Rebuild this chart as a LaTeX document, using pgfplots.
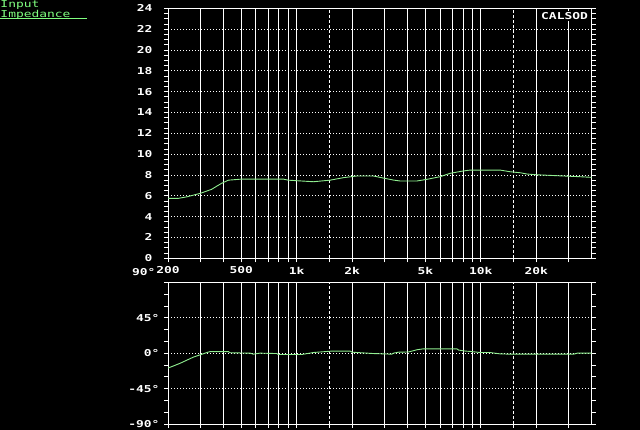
\documentclass[border=0pt]{standalone}
\usepackage{pgfplots}
\pgfplotsset{compat=1.18}
\usepackage{fontspec}
\setmainfont{DejaVu Sans Mono}[FakeStretch=1.36]
\definecolor{curve}{RGB}{144,238,144}
\definecolor{ttl}{RGB}{128,255,128}
\pgfplotsset{every axis/.append style={
  scale only axis, width=423.7pt,
  axis line style={white, line width=0.9pt},
  axis background/.style={fill=black},
  xmajorgrids, xminorgrids, ymajorgrids,
  major x grid style={white, line width=0.8pt},
  minor x grid style={white, line width=0.8pt, dash pattern=on 3pt off 2pt},
  major y grid style={white, line width=0.8pt, dash pattern=on 1pt off 2pt},
  tick style={white, line width=0.8pt},
  tick align=outside, major tick length=4pt, minor tick length=4pt,
  xtick pos=left, ytick pos=both,
  ticklabel style={text=white, font=\bfseries\fontsize{9.5}{9.5}\selectfont},
}}
\begin{document}
\begin{tikzpicture}[x=1pt,y=1pt]
\fill[black] (0,0) rectangle (640,430);
\useasboundingbox (0,0) rectangle (640,430);
\node[anchor=north west, inner sep=0pt, text=ttl, align=left, font=\fontsize{9.5}{8.4}\selectfont] at (0.3,430) {Input\\Impedance};
\draw[ttl, line width=0.9pt] (0,411.7) -- (87,411.7);
\begin{axis}[at={(168pt,171.7pt)}, anchor=south west, height=250pt,
  xmode=log, xmin=200, xmax=40000,
  xtick={200,300,400,500,600,700,800,900,1000,2000,3000,4000,5000,6000,7000,8000,9000,10000,20000,30000},
  xticklabels={200,,,500,,,,,1k,2k,,,5k,,,,,10k,20k,},
  minor xtick={1500,15000},
  ymin=0, ymax=24, ytick={0,2,...,24}, minor y tick num=3,
  yticklabels={0,2,4,6,8,10,12,14,16,18,20,22,24},
  yticklabel style={xshift=-8pt}, xticklabel style={yshift=-1pt}]
\addplot[curve, line width=0.9pt] coordinates {
(200,5.76) (227,5.75) (253,5.9) (300,6.24) (345,6.62) (370,6.95) (391,7.2) (426,7.5) (500,7.6)
(847,7.6) (900,7.5) (1000,7.45) (1232,7.35) (1518,7.5) (1795,7.74) (2120,7.9) (2612,7.9)
(2960,7.7) (3354,7.51) (3647,7.42) (4494,7.42) (5094,7.58) (6000,7.83) (6818,8.16)
(8000,8.38) (8750,8.47) (12700,8.47) (14400,8.31) (16400,8.21) (17800,8.09) (20000,8.02)
(25900,7.93) (34700,7.83) (40000,7.77)};
\node[anchor=north east, fill=black, inner sep=1.5pt, text=white, font=\bfseries\fontsize{9.5}{9.5}\selectfont] at (rel axis cs:0.995,0.99) {CALSOD};
\end{axis}
\begin{axis}[at={(168pt,6pt)}, anchor=south west, height=141.7pt,
  xmode=log, xmin=200, xmax=40000,
  xtick={200,300,400,500,600,700,800,900,1000,2000,3000,4000,5000,6000,7000,8000,9000,10000,20000,30000},
  xticklabels={},
  minor xtick={1500,15000},
  ymin=-90, ymax=90, ytick={-90,-45,0,45,90}, minor y tick num=2,
  yticklabels={-90°,-45°,0°,45°,\raisebox{20pt}{90°\hspace{4pt}}},
  yticklabel style={xshift=-1pt}]
\addplot[curve, line width=0.9pt] coordinates {
(200,-19) (232,-13) (275,-5) (300,-2) (338,2) (426,2) (434,0.5) (558,0) (581,-1.3)
(632,0) (779,-0.5) (795,-1.7) (1065,-1.7) (1232,0.8) (1551,2.6) (1950,2.6) (2000,1.2)
(2612,-0.5) (3286,-1.3) (3354,0) (3570,1.2) (4046,1.5) (4221,2.6) (4494,4.3) (4884,5.5)
(7414,5.5) (7575,3.9) (8226,2.6) (8750,2.2) (9925,0.8) (11200,0.8) (12700,-0.9)
(14400,-1.3) (31900,-1.3) (33400,0) (40000,0)};
\end{axis}
\end{tikzpicture}
\end{document}
